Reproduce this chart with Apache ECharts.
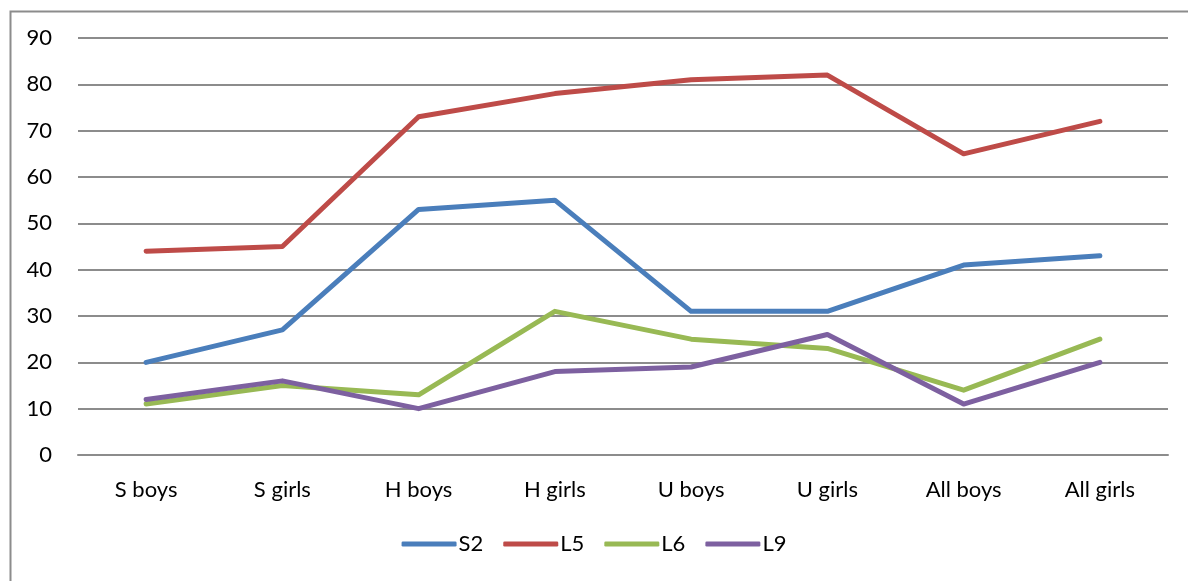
<!DOCTYPE html>
<html>
<head>
<meta charset="utf-8">
<script src="https://cdn.jsdelivr.net/npm/echarts@6/dist/echarts.min.js"></script>
<style>
  html, body { margin: 0; padding: 0; background: #fff; }
  #chart { width: 1188px; height: 581px; }
</style>
</head>
<body>
<div id="chart"></div>
<script>
// categories and series values
var categories = ['S boys', 'S girls', 'H boys', 'H girls', 'U boys', 'U girls', 'All boys', 'All girls'];
var s2 = [20, 27, 53, 55, 31, 31, 41, 43];
var l5 = [44, 45, 73, 78, 81, 82, 65, 72];
var l6 = [11, 15, 13, 31, 25, 23, 14, 25];
var l9 = [12, 16, 10, 18, 19, 26, 11, 20];

var myChart = echarts.init(document.getElementById('chart'));

function line(name, data, color) {
  return {
    name: name,
    type: 'line',
    data: data,
    showSymbol: false,
    symbol: 'none',
    lineStyle: { width: 5, color: color, cap: 'round', join: 'round' },
    itemStyle: { color: color },
    z: 3
  };
}

var option = {
  animation: false,
  textStyle: { fontFamily: 'Lato', color: '#000' },
  graphic: [{
    type: 'rect',
    left: 8, top: 9,
    shape: { width: 1200, height: 600 },
    style: { fill: 'none', stroke: '#8c8c8c', lineWidth: 2 },
    silent: true
  }],
  grid: { left: 78, right: 20, top: 38, bottom: 126, containLabel: false },
  legend: {
    bottom: 21,
    left: 'center',
    itemWidth: 55,
    itemHeight: 5,
    itemGap: 20,
    textStyle: { fontSize: 22, color: '#000', fontFamily: 'Lato', padding: [0, 0, 0, -3] },
    data: [
      { name: 'S2', icon: 'roundRect' },
      { name: 'L5', icon: 'roundRect' },
      { name: 'L6', icon: 'roundRect' },
      { name: 'L9', icon: 'roundRect' }
    ]
  },
  xAxis: {
    type: 'category',
    data: categories,
    boundaryGap: true,
    axisLine: { show: true, lineStyle: { color: '#8c8c8c', width: 2 } },
    axisTick: { show: false },
    axisLabel: { fontSize: 22, color: '#000', margin: 24, fontFamily: 'Lato' }
  },
  yAxis: {
    type: 'value',
    min: 0, max: 90, interval: 10,
    axisLine: { show: false },
    axisTick: { show: false },
    axisLabel: { fontSize: 22, color: '#000', margin: 26, fontFamily: 'Lato' },
    splitLine: { lineStyle: { color: '#8c8c8c', width: 2 } }
  },
  series: [
    line('S2', s2, '#4a7ebb'),
    line('L5', l5, '#be4b48'),
    line('L6', l6, '#98b954'),
    line('L9', l9, '#7d60a0')
  ]
};

myChart.setOption(option);
</script>
</body>
</html>
